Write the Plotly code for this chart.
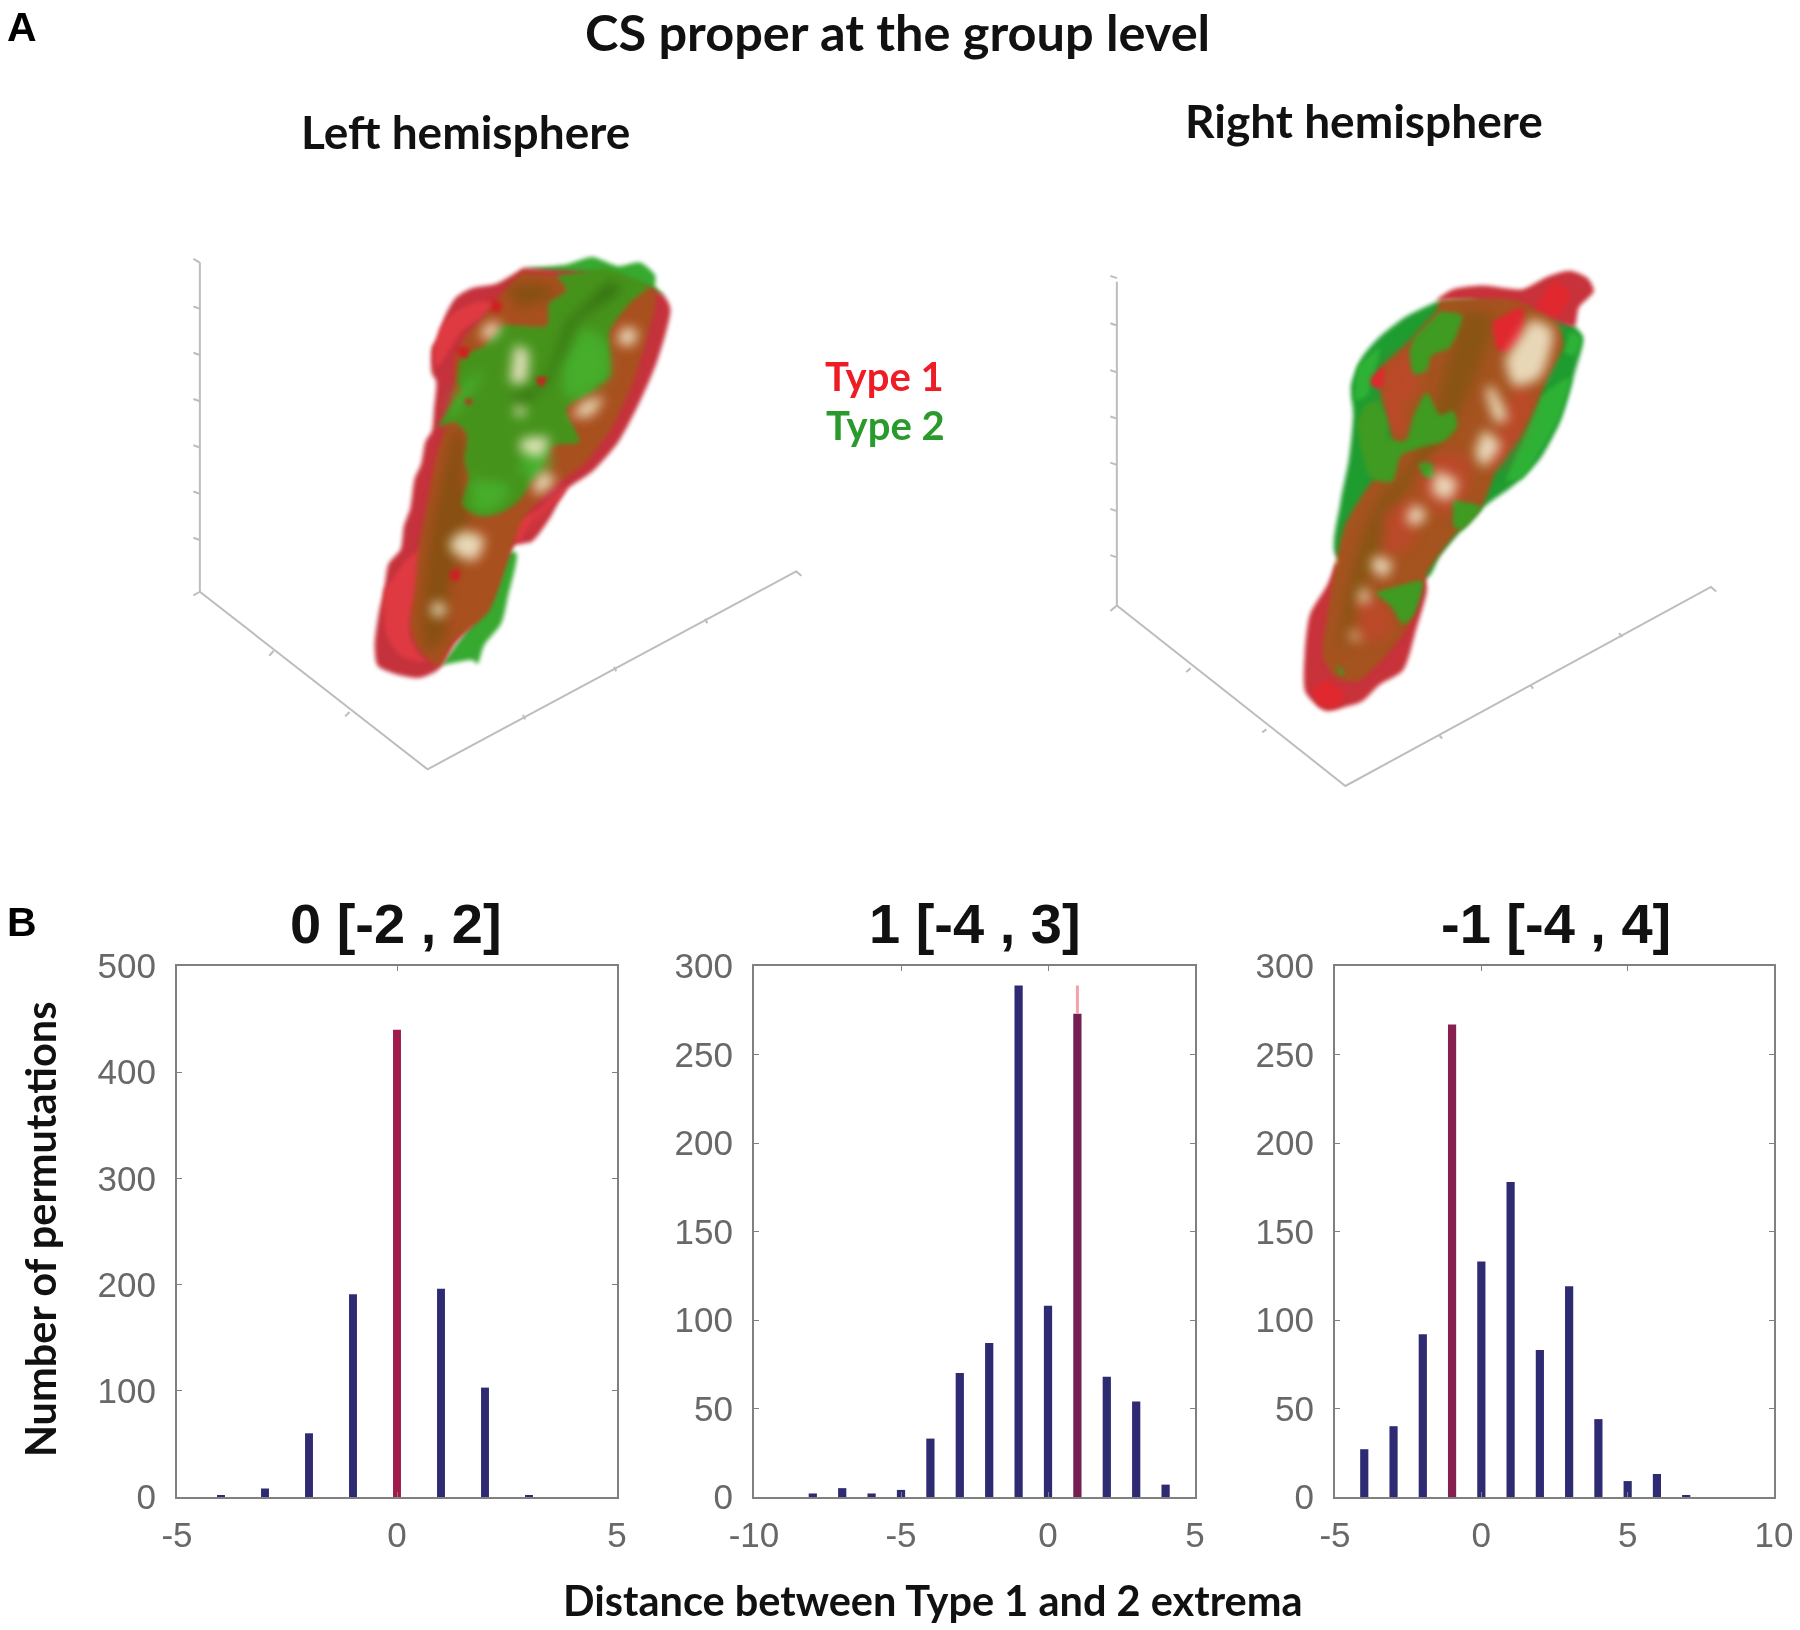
import plotly.graph_objects as go

W = 1800
H = 1630

# Histograms, panel B
hist_titles = ["0 [-2 , 2]", "1 [-4 , 3]", "-1 [-4 , 4]"]
dist_a = [-4, -3, -2, -1, 0, 1, 2, 3]
count_a = [1, 8, 60, 191, 440, 196, 103, 1]
dist_b = [-8, -7, -6, -5, -4, -3, -2, -1, 0, 1, 2, 3, 4]
count_b = [2, 5, 2, 4, 33, 70, 87, 289, 108, 273, 68, 54, 7]
dist_c = [-4, -3, -2, -1, 0, 1, 2, 3, 4, 5, 6, 7]
count_c = [27, 40, 92, 267, 133, 178, 83, 119, 44, 9, 13, 1]
observed = [0, 1, -1]
xticks_a = [-5, 0, 5]
xticks_b = [-10, -5, 0, 5]
xticks_c = [-5, 0, 5, 10]
yticks_a = [0, 100, 200, 300, 400, 500]
yticks_b = [0, 50, 100, 150, 200, 250, 300]

# Left hemisphere outlines
left_red_x = [860, 800, 740, 705, 680, 665, 650, 650, 660, 655, 650, 635, 625, 610, 600, 585, 578, 550, 540, 528, 518, 525, 560, 620, 665, 700, 780, 840, 880, 920, 960, 1020, 1080, 1130, 1170, 1200, 1185, 1140, 1000]
left_red_y = [130, 172, 185, 210, 260, 320, 345, 415, 435, 510, 570, 600, 660, 700, 780, 830, 890, 930, 1000, 1060, 1150, 1205, 1225, 1238, 1215, 1150, 1040, 880, 870, 810, 730, 680, 600, 490, 380, 240, 205, 180, 140]
left_back_x = [670, 745, 755, 770, 810, 825, 845, 820, 760, None, 860, 960, 1020, 1080, 1130, 1165, 1165, 1185, 1120, 1060, 940]
left_back_y = [1205, 1190, 1200, 1150, 1090, 1020, 900, 900, 1060, None, 130, 120, 100, 125, 115, 150, 180, 205, 190, 170, 150]
left_bright_x = [590, 640, 635, 610, 600, 620, 640, 580, 545, 540, None, 850, 900, 960, 950, 880, 850, 900, 940, 930, 850, 840, 830, None, 700, 760, 800, 720, 660, 655, 670, 700]
left_bright_y = [920, 880, 950, 1040, 1120, 1170, 1195, 1180, 1120, 1000, None, 810, 780, 720, 745, 815, 880, 800, 760, 770, 870, 860, 850, None, 250, 220, 230, 300, 400, 350, 290, 250]
left_brown_x = [860, 810, 770, 730, 705, 700, 690, 660, 640, 620, 610, 600, 620, 665, 700, 780, 830, 860, 930, 1000, 1060, 1110, 1150, 1165, 1060, 940]
left_brown_y = [140, 200, 260, 310, 370, 450, 530, 640, 760, 880, 1000, 1100, 1160, 1205, 1140, 1060, 900, 810, 720, 660, 570, 450, 300, 190, 170, 150]
left_dark_x = [700, 725, 720, 735, 720, 690, 680, 640, 625, 650, None, 820, 900, 940, 850]
left_dark_y = [560, 600, 700, 800, 900, 1000, 1130, 1170, 1090, 820, None, 180, 170, 200, 240]
left_green_x = [935, 960, 920, 915, 850, 810, 770, 720, 710, 720, 690, 665, 700, 730, 725, 735, 720, 760, 810, 850, 890, 930, 990, 960, 1020, 1060, 1060, 1060, 1110, 1150, 1050]
left_green_y = [150, 190, 225, 285, 285, 285, 340, 370, 440, 460, 510, 560, 545, 580, 650, 700, 770, 800, 790, 760, 690, 610, 600, 510, 460, 420, 370, 300, 220, 180, 130]
left_fold_x = [1060, 1085, 980, 950, 915, 870, 830, 890, 925, 960]
left_fold_y = [165, 185, 280, 370, 440, 490, 480, 455, 400, 280]
left_lime_x = [1000, 1050, 1060, 1010, 960, 950, None, 870, 930, 900, 850, None, 740, 830, 800, 745, None, 700, 770, 740, 680]
left_lime_y = [290, 330, 420, 470, 480, 390, None, 590, 640, 700, 680, None, 700, 720, 780, 790, None, 470, 400, 470, 560]
left_cream_x = [775, 810, 790, 760, None, 840, 870, 865, 830, None, 720, 770, 750, 700, 690, None, 660, 685, 665, 645, None, 1090, 1125, 1110, 1075, None, 1000, 1045, 1015, 970, None, 860, 920, 900, 850, None, 900, 935, 900, 880, None, 845, 865, 860, 840]
left_cream_y = [280, 280, 320, 320, None, 340, 350, 440, 440, None, 840, 860, 920, 900, 870, None, 1030, 1050, 1075, 1055, None, 290, 300, 340, 330, None, 490, 480, 530, 530, None, 590, 590, 640, 620, None, 680, 700, 740, 730, None, 500, 505, 530, 525]
left_spot_x = [690, 715, 710, 695, None, 890, 915, 905, 895, None, 790, 810, 805, 785, None, 705, 735, 730, 715, None, 725, 745, 735, 730]
left_spot_y = [950, 945, 975, 975, None, 425, 425, 450, 445, None, 215, 225, 250, 245, None, 345, 345, 375, 370, None, 485, 485, 500, 498]

# Right hemisphere outlines
right_green_x = [820, 750, 690, 650, 625, 630, 620, 600, 590, 800, 830, 930, 1000, 1060, 1110, 1140, 1160, 1140, 1000]
right_green_y = [195, 235, 290, 345, 420, 500, 620, 740, 880, 940, 880, 750, 690, 620, 510, 390, 290, 260, 180]
right_red_x = [820, 860, 930, 1020, 1080, 1130, 1170, 1185, 1150, 1140, 1100, 1000, 900, None, 590, 570, 530, 518, 520, 565, 610, 650, 690, 745, 775, 800, 790, 700]
right_red_y = [190, 160, 150, 160, 125, 110, 130, 165, 210, 260, 250, 215, 190, None, 900, 960, 1040, 1150, 1250, 1300, 1290, 1275, 1230, 1190, 1080, 970, 930, 1000]
right_bright_x = [1060, 1095, 1130, 1100, 1050, None, 535, 570, 610, 590, 550, None, 950, 1020, 1015, 980, 960, None, 670, 700, 695, 670]
right_bright_y = [190, 140, 170, 235, 210, None, 1240, 1220, 1260, 1290, 1285, None, 250, 210, 300, 330, 320, None, 400, 370, 430, 420]
right_brown_x = [830, 1000, 1100, 1115, 1080, 1050, 1020, 960, 930, 860, 800, 770, 740, 690, 640, 590, 560, 570, 590, 610, 660, 700, 720, 700, 690, 750, 820]
right_brown_y = [190, 190, 250, 310, 400, 480, 550, 650, 740, 830, 930, 1040, 1100, 1170, 1220, 1210, 1150, 1040, 900, 800, 700, 640, 580, 470, 380, 310, 220]
right_dark_x = [880, 950, 920, 870, 800, 740, 700, 660, 600, 610, 640, 690, 760, 820]
right_dark_y = [220, 230, 370, 500, 620, 720, 840, 960, 1140, 1020, 870, 730, 640, 480]
right_orange_x = [700, 770, 780, 750, 750, 700, None, 830, 900, 880, 830, 790, 780, None, 1000, 1045, 1020, 960, 940, None, 640, 700, 720, 650, None, 700, 780, 760, 700]
right_orange_y = [380, 320, 430, 470, 560, 520, None, 600, 620, 740, 770, 720, 660, None, 420, 440, 550, 650, 620, None, 1000, 1000, 1090, 1120, None, 760, 730, 860, 880]
right_patch_x = [830, 880, 870, 850, 810, 800, 770, 760, 770, None, 690, 710, 710, 750, 770, 800, 830, 860, 870, 840, 780, 740, 720, 670, 650, 640, 660, None, 780, 810, 815, 790, None, 860, 925, 880, 860, None, 680, 740, 790, 770, 745, 720, None, 590, 610, 600]
right_patch_y = [220, 230, 280, 320, 340, 380, 390, 330, 290, None, 460, 520, 560, 570, 500, 440, 500, 490, 530, 570, 590, 610, 680, 670, 600, 520, 470, None, 630, 630, 670, 665, None, 730, 750, 810, 800, None, 980, 960, 950, 1040, 1065, 1020, None, 1175, 1195, 1205]
right_lime_x = [640, 690, 660, 630, None, 1060, 1130, 1100, 1060, 1020, 980, None, 1130, 1155, 1140, 1115]
right_lime_y = [370, 320, 450, 460, None, 450, 400, 520, 600, 670, 680, None, 275, 290, 340, 330]
right_cream_x = [1040, 1090, 1060, 1000, 980, None, 950, 985, 960, 935, None, 930, 970, 930, 910, None, 770, 800, 770, 750, None, 680, 720, 700, 670, None, 650, 670, 640, None, 630, 650, 620, None, 820, 870, 850, 810]
right_cream_y = [240, 270, 400, 420, 350, None, 420, 510, 520, 430, None, 540, 580, 640, 600, None, 740, 770, 800, 780, None, 880, 900, 940, 910, None, 960, 1000, 1010, None, 1080, 1110, 1100, None, 650, 680, 730, 710]

# 3D box lines behind each surface
left_box_x = [115, 115, 640, 1490, 1502, None, 115, 100, None, 115, 100, None, 115, 100, None, 115, 100, None, 115, 100, None, 115, 100, None, 115, 100, None, 115, 100, None, 285, 275, None, 460, 450, None, 865, 860, None, 1075, 1070, None, 1285, 1280]
left_box_y = [115, 1005, 1485, 950, 962, None, 1005, 1015, None, 115, 105, None, 240, 234, None, 365, 359, None, 490, 484, None, 615, 609, None, 740, 734, None, 865, 859, None, 1165, 1178, None, 1330, 1342, None, 1350, 1338, None, 1220, 1208, None, 1090, 1078]
right_box_x = [85, 85, 612, 1455, 1467, None, 85, 70, None, 85, 70, None, 85, 70, None, 85, 70, None, 85, 70, None, 85, 70, None, 85, 70, None, 85, 70, None, 255, 245, None, 430, 420, None, 835, 828, None, 1045, 1038, None, 1250, 1243]
right_box_y = [140, 1015, 1503, 965, 977, None, 1015, 1030, None, 130, 124, None, 258, 252, None, 385, 379, None, 510, 504, None, 635, 629, None, 760, 754, None, 885, 879, None, 1185, 1195, None, 1350, 1358, None, 1375, 1365, None, 1240, 1230, None, 1100, 1090]

TEXT_FONT = "Lato"
NUM_FONT = "Liberation Sans"
NAVY = "#2f2b73"

# the source is a soft, upscaled raster: blur the surfaces, and everything a little
# trace order decides which layer gets the wider blur, see the add_trace calls below
PAGE_CSS = """
body { margin: 0; }
.plot-container { filter: blur(0.6px); }
.subplot.x4y4 .scatterlayer .trace:not(:first-child), .subplot.x5y5 .scatterlayer .trace:not(:first-child) { filter: blur(2px); }
.subplot.x4y4 .scatterlayer .trace:nth-child(6), .subplot.x4y4 .scatterlayer .trace:nth-child(8), .subplot.x4y4 .scatterlayer .trace:nth-child(9), .subplot.x4y4 .scatterlayer .trace:nth-child(10) { filter: blur(6px); }
.subplot.x5y5 .scatterlayer .trace:nth-child(6), .subplot.x5y5 .scatterlayer .trace:nth-child(7), .subplot.x5y5 .scatterlayer .trace:nth-child(10) { filter: blur(6px); }
"""


def dom_x(left, right):
    return [left / W, right / W]


def dom_y(top, bottom):
    return [1 - bottom / H, 1 - top / H]


def blob(x, y, color, axis="x4", yaxis="y4"):
    return go.Scatter(x=x, y=y, mode="lines", fill="toself", fillcolor=color,
                      line=dict(width=0, shape="spline", smoothing=0.7),
                      hoverinfo="skip", showlegend=False, xaxis=axis, yaxis=yaxis)


def box(x, y, axis, yaxis):
    return go.Scatter(x=x, y=y, mode="lines", line=dict(color="#bdbdbd", width=2),
                      hoverinfo="skip", showlegend=False, xaxis=axis, yaxis=yaxis)


fig = go.Figure()

# Panel B histograms
panels = [(dist_a, count_a, 0.18, "#a01a4c", ""), (dist_b, count_b, 0.28, "#741f52", "2"), (dist_c, count_c, 0.28, "#86204f", "3")]
for i, (dist, count, bar_w, hit_color, ax) in enumerate(panels):
    colors = [hit_color if d == observed[i] else NAVY for d in dist]
    fig.add_trace(go.Bar(x=dist, y=count, width=bar_w, marker=dict(color=colors, line=dict(width=0)),
                         showlegend=False, xaxis="x" + ax, yaxis="y" + ax))
# thin red marker that sticks out above the middle bar
fig.add_trace(go.Scatter(x=[observed[1], observed[1]], y=[count_b[9], max(count_b)], mode="lines",
                         line=dict(color="#f8a0a8", width=3), showlegend=False, xaxis="x2", yaxis="y2"))

# Panel A, left
fig.add_trace(box(left_box_x, left_box_y, "x4", "y4"))
fig.add_trace(blob(left_back_x, left_back_y, "#37a92f"))
fig.add_trace(blob(left_red_x, left_red_y, "#c5323c"))
fig.add_trace(blob(left_bright_x, left_bright_y, "#df3a42"))
fig.add_trace(blob(left_brown_x, left_brown_y, "#a9501f"))
fig.add_trace(blob(left_dark_x, left_dark_y, "rgba(125,80,15,0.75)"))
fig.add_trace(blob(left_green_x, left_green_y, "#46931c"))
fig.add_trace(blob(left_lime_x, left_lime_y, "rgba(70,185,50,0.7)"))
fig.add_trace(blob(left_cream_x, left_cream_y, "rgba(240,232,200,0.9)"))
fig.add_trace(blob(left_fold_x, left_fold_y, "rgba(50,105,15,0.8)"))
fig.add_trace(blob(left_spot_x, left_spot_y, "#cf1f22"))

# Panel A, right
fig.add_trace(box(right_box_x, right_box_y, "x5", "y5"))
fig.add_trace(blob(right_green_x, right_green_y, "#1f9c30", "x5", "y5"))
fig.add_trace(blob(right_red_x, right_red_y, "#c8323a", "x5", "y5"))
fig.add_trace(blob(right_lime_x, right_lime_y, "#2eb236", "x5", "y5"))
fig.add_trace(blob(right_brown_x, right_brown_y, "#a5531f", "x5", "y5"))
fig.add_trace(blob(right_dark_x, right_dark_y, "rgba(125,85,15,0.7)", "x5", "y5"))
fig.add_trace(blob(right_orange_x, right_orange_y, "rgba(196,70,45,0.7)", "x5", "y5"))
fig.add_trace(blob(right_patch_x, right_patch_y, "#3f9b22", "x5", "y5"))
fig.add_trace(blob(right_bright_x, right_bright_y, "#e0282e", "x5", "y5"))
fig.add_trace(blob(right_cream_x, right_cream_y, "rgba(240,230,200,0.9)", "x5", "y5"))

hist_axis = dict(showline=True, linecolor="#808080", linewidth=2, mirror="ticks", ticks="inside", ticklen=5,
                 tickcolor="#808080", tickwidth=1, showgrid=False, zeroline=False, tickmode="array",
                 automargin=False, tickfont=dict(family=NUM_FONT, size=35, color="#686868"))
top = 966
bottom = 1497


def tick_strings(vals):
    return [str(v) for v in vals]


fig.update_layout(
    width=W, height=H, margin=dict(l=0, r=0, t=0, b=0), paper_bgcolor="white", plot_bgcolor="white",
    barmode="overlay", showlegend=False,
    xaxis=dict(hist_axis, domain=dom_x(177, 617), range=[-5, 5], tickvals=xticks_a, ticktext=tick_strings(xticks_a), ticklabelstandoff=6),
    yaxis=dict(hist_axis, domain=dom_y(top, bottom), range=[0, 500], tickvals=yticks_a, ticktext=tick_strings(yticks_a), ticklabelstandoff=12),
    xaxis2=dict(hist_axis, domain=dom_x(754, 1195), anchor="y2", range=[-10, 5], tickvals=xticks_b, ticktext=tick_strings(xticks_b), ticklabelstandoff=6),
    yaxis2=dict(hist_axis, domain=dom_y(top, bottom), anchor="x2", range=[0, 300], tickvals=yticks_b, ticktext=tick_strings(yticks_b), ticklabelstandoff=12),
    xaxis3=dict(hist_axis, domain=dom_x(1335, 1774), anchor="y3", range=[-5, 10], tickvals=xticks_c, ticktext=tick_strings(xticks_c), ticklabelstandoff=6),
    yaxis3=dict(hist_axis, domain=dom_y(top, bottom), anchor="x3", range=[0, 300], tickvals=yticks_b, ticktext=tick_strings(yticks_b), ticklabelstandoff=12),
    # hemisphere panels use the pixel grid of the crop they were read from
    xaxis4=dict(domain=dom_x(150, 830), anchor="y4", range=[0, 1568], visible=False, automargin=False),
    yaxis4=dict(domain=dom_y(220, 800), anchor="x4", range=[1568, 0], visible=False, automargin=False),
    xaxis5=dict(domain=dom_x(1080, 1760), anchor="y5", range=[0, 1568], visible=False, automargin=False),
    yaxis5=dict(domain=dom_y(230, 810), anchor="x5", range=[1568, 0], visible=False, automargin=False),
)


def label(text, x, y, size, family=TEXT_FONT, color="#111111", bold=True, angle=0):
    fig.add_annotation(x=x / W, y=1 - y / H, xref="paper", yref="paper", text=text, showarrow=False,
                       textangle=angle, xanchor="center", yanchor="middle",
                       font=dict(family=family, size=size, color=color, weight="bold" if bold else "normal"))


label("CS proper at the group level", 897, 31, 50.5)
label("Left hemisphere", 465, 132, 46)
label("Right hemisphere", 1364, 120, 46)
label("Type 1", 884, 376, 40, color="#ee1c25")
label("Type 2", 885, 425, 40, color="#2a9a2c")
label("A", 22, 27, 41, family=NUM_FONT, color="black")
label("B", 22, 922, 41, family=NUM_FONT, color="black")
label(hist_titles[0], 396, 924, 56, family=NUM_FONT)
label(hist_titles[1], 975, 924, 56, family=NUM_FONT)
label(hist_titles[2], 1556, 924, 56, family=NUM_FONT)
label("Number of permutations", 40, 1230, 41.5, angle=-90)
label("Distance between Type 1 and 2 extrema", 933, 1600, 41.5)

fig.write_html("out.html", config={"displayModeBar": False},
               post_script="var s=document.createElement('style');s.textContent=`" + PAGE_CSS + "`;document.head.appendChild(s);")
